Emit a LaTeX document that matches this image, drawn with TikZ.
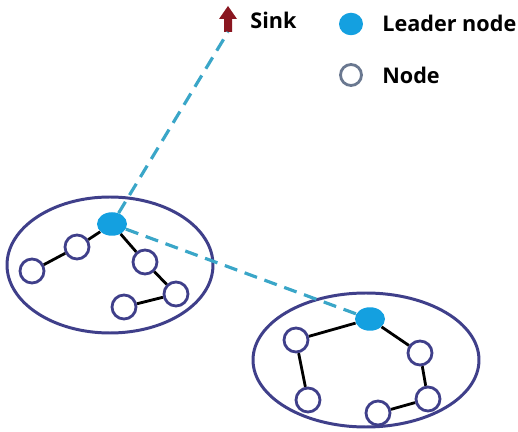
\documentclass[tikz,border=0pt]{standalone}
\usepackage{fontspec}
\setmainfont{Open Sans}
\usepackage{tikz}
\usetikzlibrary{positioning}
\usetikzlibrary{shapes.geometric}
\definecolor{clusterblue}{HTML}{3F3F8A}
\definecolor{leaderblue}{HTML}{14A0E0}
\definecolor{linkblue}{HTML}{3AA6C8}
\definecolor{sinkred}{HTML}{8A1620}
\definecolor{legendgray}{HTML}{6A7890}
\tikzset{
  sensor/.style={circle, draw=clusterblue, line width=1.6pt, fill=white, minimum size=0.48cm, inner sep=0pt},
  leader/.style={ellipse, fill=leaderblue, minimum width=0.6cm, minimum height=0.47cm, inner sep=0pt},
  cluster/.style={draw=clusterblue, line width=1.7pt},
  link/.style={line width=1.6pt},
  radio/.style={draw=linkblue, line width=1.8pt, dash pattern=on 7.5pt off 4.5pt},
  legendtext/.style={font=\fontsize{12.3}{15}\selectfont\bfseries, anchor=west, inner sep=0pt}
}

\begin{document}
\begin{tikzpicture}[x=0.02cm, y=-0.02cm]
        \useasboundingbox (0,0) rectangle (518,432);

        % Clusters
        \draw[cluster] (110,265) ellipse (103 and 68);
        \draw[cluster] (366,360) ellipse (113 and 67);

        % Sink
        \coordinate (sink) at (228,32);
        \fill[sinkred] (224,32) -- (224,19) -- (219,19) -- (228,6) -- (237,19) -- (232,19) -- (232,32) -- cycle;
        \node[legendtext] (sinklabel) at (250,20) {Sink};

        % Leaders
        \node[leader] (leaderA) at (112,224) {};
        \node[leader] (leaderB) at (370,319) {};

        % Radio links
        \draw[radio] (leaderA) -- (sink);
        \draw[radio] (leaderA) -- (leaderB);

        % First cluster
        \node[sensor] (a1) at (77,247) {};
        \node[sensor] (a2) at (32,271) {};
        \node[sensor] (a3) at (145,262) {};
        \node[sensor] (a4) at (176,294) {};
        \node[sensor] (a5) at (124,307) {};
        \draw[link] (leaderA) -- (a1) -- (a2);
        \draw[link] (leaderA) -- (a3) -- (a4) -- (a5);

        % Second cluster
        \node[sensor] (b1) at (296,340) {};
        \node[sensor] (b2) at (308,400) {};
        \node[sensor] (b3) at (420,353) {};
        \node[sensor] (b4) at (428,399) {};
        \node[sensor] (b5) at (378,413) {};
        \draw[link] (leaderB) -- (b1) -- (b2);
        \draw[link] (leaderB) -- (b3) -- (b4) -- (b5);

        % Legend
        \node[leader, minimum width=0.48cm, minimum height=0.45cm] (keyleader) at (351,24) {};
        \node[legendtext] (keyleadertext) at (382,23) {Leader node};
        \node[sensor, draw=legendgray, minimum size=0.42cm] (keynode) at (351,75) {};
        \node[legendtext] (keynodetext) at (keyleadertext.west |- keynode) {Node};

    \end{tikzpicture}
\end{document}
